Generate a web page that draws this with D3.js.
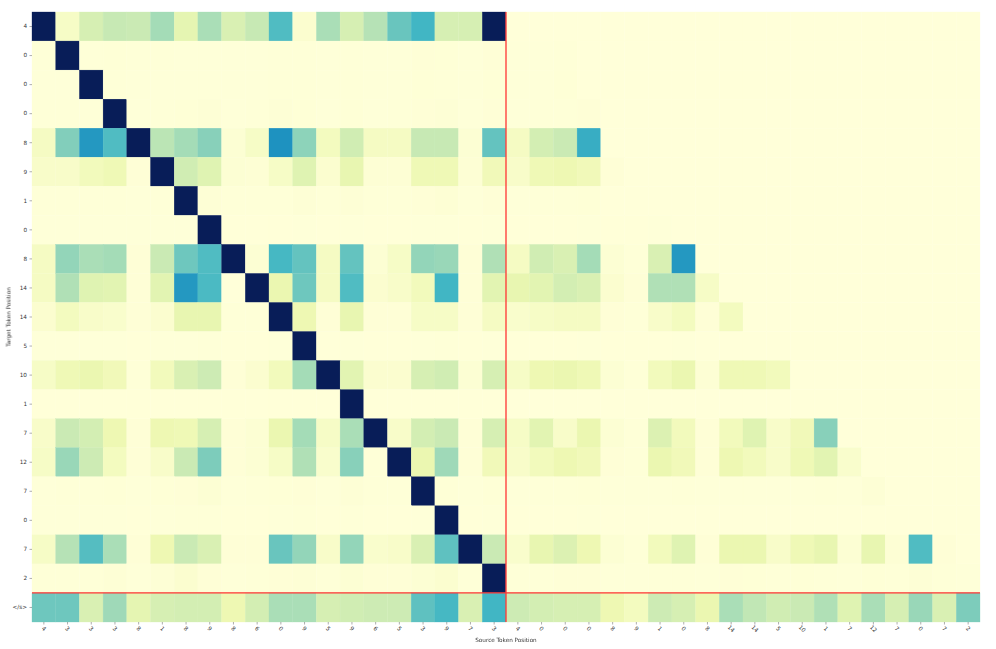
<!DOCTYPE html>
<html>
<head>
<meta charset="utf-8">
<script src="https://cdn.jsdelivr.net/npm/d3@7"></script>
<style>
html,body{margin:0;padding:0;background:#fff}
svg{display:block}
text{font-family:"DejaVu Sans",sans-serif;fill:#333}
.labels{opacity:.999}
</style>
</head>
<body>
<svg id="chart" width="996" height="649"></svg>
<script>
const sourceLabels = ["4","3","3","3","8","1","8","9","8","6","0","9","5","9","6","5","3","9","7","3",
  "4","0","0","0","8","9","1","0","8","14","14","5","10","1","7","12","7","0","7","2"];
const targetLabels = ["4","0","0","0","8","9","1","0","8","14","14","5","10","1","7","12","7","0","7","2","</s>"];

// attention weight per target row, by source column (columns not listed are 0)
const row00 = [1,.06,.2,.25,.24,.31,.15,.3,.19,.25,.47,.03,.3,.2,.28,.42,.5,.2,.2,1];
const row01 = [.005,1,.005,.008,.005,.005,.004,.004,.004,.004,.006,.006,.004,.006,.004,.004,.01,.008,.004,.01,.004,.004,.006];
const row02 = [.004,.004,1,.006,.004,.004,.004,.004,.004,.004,.006,.006,.004,.006,.004,.004,.008,.006,.004,.008,.004,.004,.008];
const row03 = [.006,.006,.006,1,.004,.006,.008,.012,.004,.006,.014,.008,.004,.008,.004,.006,.01,.014,.004,.01,.004,.006,.006,.01];
const row04 = [.07,.37,.6,.47,1,.27,.31,.36,.02,.06,.62,.35,.08,.22,.07,.07,.25,.25,.02,.43,.07,.21,.24,.53];
const row05 = [.05,.05,.09,.11,.01,1,.22,.17,.02,.015,.06,.17,.03,.14,.015,.015,.11,.11,.015,.1,.05,.11,.12,.1,.01];
const row06 = [.006,.006,.006,.006,.004,.006,1,.012,.006,.006,.006,.012,.006,.014,.006,.006,.01,.016,.004,.01,.004,.006,.006,.008];
const row07 = [.004,.004,.004,.004,.004,.004,.004,1,.002,.002,.002,.004,.002,.004,.002,.002,.004,.004,.002,.004,.002,.002,.002,.004,.002,.002,.004];
const row08 = [.07,.34,.3,.31,.01,.24,.41,.47,1,.02,.49,.43,.07,.43,.02,.06,.34,.33,.01,.29,.07,.22,.19,.31,.02,.005,.19,.6];
const row09 = [.07,.29,.17,.16,.01,.16,.6,.48,0,1,.13,.41,.07,.47,.03,.05,.09,.5,.01,.16,.14,.16,.21,.19,.03,.01,.29,.29,.06];
const row10 = [.03,.08,.05,.04,.01,.03,.14,.14,.005,.005,1,.12,.01,.14,.01,.01,.06,.06,.01,.07,.04,.06,.07,.07,.01,.005,.05,.08,.01,.08];
const row11 = [.004,.004,.004,.004,.002,.004,.004,.006,.002,.002,.004,1,.002,.004,.002,.002,.004,.006,.002,.004,.002,.002,.002,.004,.002,.002,.002,.004];
const row12 = [.06,.11,.13,.1,.005,.09,.19,.23,.01,.03,.09,.31,1,.16,.03,.03,.2,.22,.02,.2,.06,.12,.13,.11,.02,.005,.09,.13,.015,.11,.11,.09];
const row13 = [.002,.002,.002,.002,.002,.002,.002,.002,.002,.002,.002,.002,.002,1,.002,.002,.002,.002,.002,.002];
const row14 = [.05,.24,.21,.12,.01,.12,.11,.2,.01,.02,.13,.31,.06,.3,1,.05,.21,.24,.01,.2,.06,.16,.05,.13,.02,.005,.18,.09,.01,.09,.17,.05,.1,.36];
const row15 = [.06,.33,.23,.08,.01,.05,.24,.38,.01,.02,.06,.29,.04,.36,.005,1,.13,.32,.01,.1,.05,.09,.12,.1,.01,.005,.13,.1,.01,.12,.09,.05,.11,.16,.04];
const row16 = [.004,.006,.006,.008,.004,.008,.01,.018,.004,.006,.008,.01,.004,.012,.006,.006,1,.008,.004,.008,.004,.006,.006,.008,.004,.004,.004,.006,.004,.004,.004,.004,.004,.006,.004,.012];
const row17 = [.004,.004,.004,.004,.002,.004,.006,.006,.002,.002,.004,.006,.002,.006,.002,.002,.004,1,.002,.004,.002,.002,.002,.004];
const row18 = [.06,.28,.46,.3,.01,.12,.24,.19,.01,.01,.42,.34,.05,.34,.04,.05,.19,.44,1,.24,.04,.14,.18,.12,.02,.005,.09,.17,.01,.13,.13,.05,.11,.14,.02,.14,.015,.47,.01];
const row19 = [.006,.006,.006,.012,.004,.012,.03,.01,.004,.006,.01,.014,.006,.02,.01,.01,.02,.03,.006,1,.006,.006,.01,.01,.004,.004,.006,.006,.004,.01,.008,.006,.008,.006,.004,.008,.006,.012,.006,.004];
const row20 = [.41,.41,.19,.32,.15,.2,.21,.21,.12,.21,.3,.3,.2,.22,.23,.23,.44,.49,.19,.5,.23,.21,.2,.2,.12,.08,.23,.2,.13,.3,.26,.22,.24,.29,.17,.3,.2,.33,.19,.38];
const rows = [row00,row01,row02,row03,row04,row05,row06,row07,row08,row09,row10,row11,row12,row13,row14,row15,row16,row17,row18,row19,row20];

const dividerColumn = 20;   // boundary between the two source segments
const dividerRow = 20;      // boundary above the closing token

const plotLeft = 32, plotRight = 980, plotTop = 12, plotBottom = 622;
const svg = d3.select("#chart");

const x = d3.scaleBand().domain(d3.range(sourceLabels.length)).range([plotLeft, plotRight]);
const y = d3.scaleBand().domain(d3.range(targetLabels.length)).range([plotTop, plotBottom]);
const stops = d3.schemeYlGnBu[9];
const color = d3.scaleLinear()
  .domain(stops.map((_, i) => i / (stops.length - 1)))
  .range(stops)
  .interpolate(d3.interpolateRgb);

const cells = rows.flatMap((r, ri) => sourceLabels.map((_, ci) => ({ri, ci, v: r[ci] ?? 0})));
svg.append("g").selectAll("rect").data(cells).join("rect")
  .attr("x", d => x(d.ci))
  .attr("y", d => y(d.ri))
  .attr("width", x.bandwidth())
  .attr("height", y.bandwidth())
  .attr("fill", d => color(d.v))
  .attr("stroke", d => color(d.v))
  .attr("stroke-width", 0.3);

svg.append("line")
  .attr("x1", x(dividerColumn)).attr("x2", x(dividerColumn))
  .attr("y1", plotTop).attr("y2", plotBottom)
  .attr("stroke", "#ff3333").attr("stroke-width", 1.3);
svg.append("line")
  .attr("x1", plotLeft).attr("x2", plotRight)
  .attr("y1", y(dividerRow)).attr("y2", y(dividerRow))
  .attr("stroke", "#ff3333").attr("stroke-width", 1.3);

const xAxis = svg.append("g").attr("class", "labels").attr("transform", `translate(0,${plotBottom})`)
  .call(d3.axisBottom(x).tickSizeOuter(0).tickSize(2.5).tickPadding(3).tickFormat(i => sourceLabels[i]));
xAxis.select(".domain").remove();
xAxis.selectAll("line").attr("stroke", "#333").attr("stroke-width", 0.4);
xAxis.selectAll("text")
  .attr("font-size", 5.7)
  .attr("text-anchor", "middle")
  .attr("dy", 0)
  .attr("y", 8.6)
  .attr("transform", "rotate(45 0 6.6)");

const yAxis = svg.append("g").attr("class", "labels").attr("transform", `translate(${plotLeft},0)`)
  .call(d3.axisLeft(y).tickSizeOuter(0).tickSize(2.5).tickPadding(2.5).tickFormat(i => targetLabels[i]));
yAxis.select(".domain").remove();
yAxis.selectAll("line").attr("stroke", "#333").attr("stroke-width", 0.4);
yAxis.selectAll("text").attr("font-size", 5.7);

const titles = svg.append("g").attr("class", "labels");
titles.append("text").attr("x", (plotLeft + plotRight) / 2).attr("y", 641.5)
  .attr("text-anchor", "middle").attr("font-size", 5.7).text("Source Token Position");
titles.append("text").attr("transform", `translate(10.5,${(plotTop + plotBottom) / 2}) rotate(-90)`)
  .attr("text-anchor", "middle").attr("font-size", 5.7).text("Target Token Position");
</script>
</body>
</html>
